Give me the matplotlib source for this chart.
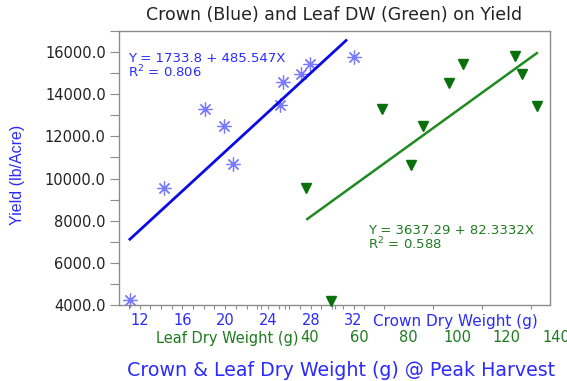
import matplotlib
matplotlib.use('Agg')
import matplotlib.pyplot as plt
from matplotlib.ticker import FormatStrFormatter, MultipleLocator, FixedLocator

# crown dry weight (g) vs yield
crown_x = [11.1, 14.3, 18.1, 19.9, 20.7, 25.1, 25.4, 27.1, 27.9, 32.0]
crown_y = [4240, 9570, 13310, 12500, 10680, 13500, 14575, 14970, 15440, 15790]
crown_fit_x = [11.1, 31.3]
crown_fit_y = [7120, 16550]

# leaf dry weight (g) vs yield
leaf_x = [38.3, 48.5, 69.1, 81.1, 86.1, 96.5, 102.3, 123.5, 126.3, 132.2]
leaf_y = [9570, 4200, 13290, 10650, 12470, 14530, 15430, 15820, 14950, 13420]
leaf_fit_x = [38.9, 132.2]
leaf_fit_y = [8080, 15950]

crown_ticks = [12, 16, 20, 24, 28, 32]
leaf_ticks = [40, 60, 80, 100, 120, 140]
yield_ticks = [4000, 6000, 8000, 10000, 12000, 14000, 16000]

BLUE = '#2b2bff'
GREEN = '#1e7a1e'
W, H = 567, 381

fig = plt.figure(figsize=(W / 100, H / 100), dpi=100)
plt.rcParams['font.family'] = ['DejaVu Sans']

# main axes (crown scale)
ax = fig.add_axes([119 / W, 1 - 305 / H, 431 / W, 274 / H])
ax.set_xlim(10.08, 50.36)
ax.set_ylim(4000, 17000)
for s in ax.spines.values():
    s.set_color('#8c8c8c')
    s.set_linewidth(1)

ax.yaxis.set_major_locator(FixedLocator(yield_ticks))
ax.yaxis.set_minor_locator(MultipleLocator(1000))
ax.yaxis.set_major_formatter(FormatStrFormatter('%.1f'))
ax.tick_params(axis='y', which='both', direction='out', length=6.5, width=0.8,
               color='#8c8c8c', labelsize=10.5, labelcolor='#222222', pad=3)

ax.xaxis.set_major_locator(FixedLocator(crown_ticks))
ax.xaxis.set_minor_locator(FixedLocator(range(11, 34)))
ax.tick_params(axis='x', which='both', direction='out', length=3, width=0.8,
               color='#8c8c8c', labelsize=10.5, labelcolor=BLUE, pad=3)

ax.plot(crown_x, crown_y, linestyle='none', marker=(8, 2, 0), markersize=10,
        markeredgecolor='#7a7aff', markeredgewidth=0.9, clip_on=False)
ax.plot(crown_fit_x, crown_fit_y, color='#0a0ae6', linewidth=2)

ax.text(0.021, 0.925, 'Y = 1733.8 + 485.547X\nR$^2$ = 0.806', transform=ax.transAxes,
        color=BLUE, fontsize=9.5, va='top', ha='left', linespacing=0.92)

# leaf scale axes (bottom labels only, extends to the figure edge)
lx0 = 40 - 191 / 2.46
lx1 = 40 + (W - 119 - 191) / 2.46
ax2 = fig.add_axes([119 / W, 1 - 305 / H, (W - 119) / W, 274 / H])
ax2.set_xlim(lx0, lx1)
ax2.set_ylim(4000, 17000)
ax2.patch.set_visible(False)
for s in ax2.spines.values():
    s.set_visible(False)
ax2.set_yticks([])
ax2.xaxis.set_major_locator(FixedLocator(leaf_ticks))
ax2.xaxis.set_minor_locator(FixedLocator(range(20, 140, 10)))
ax2.tick_params(axis='x', which='major', length=0, labelsize=10.5,
                labelcolor=GREEN, pad=18)
ax2.tick_params(axis='x', which='minor', direction='out', length=3, width=0.8,
                color='#8c8c8c')

ax2.plot(leaf_x, leaf_y, linestyle='none', marker='v', markersize=7,
         color='#0b700b', clip_on=False)
ax2.plot(leaf_fit_x, leaf_fit_y, color='#1f8a1f', linewidth=1.8)

ax.text(0.578, 0.295, 'Y = 3637.29 + 82.3332X\nR$^2$ = 0.588', transform=ax.transAxes,
        color=GREEN, fontsize=9.5, va='top', ha='left', linespacing=0.92)

# titles and axis labels
fig.text(334 / W, 1 - 15 / H, 'Crown (Blue) and Leaf DW (Green) on Yield',
         ha='center', va='center', fontsize=12.5, color='#222222')
fig.text(18 / W, 1 - 175 / H, 'Yield (lb/Acre)', rotation=90, ha='center',
         va='center', fontsize=11.5, color=BLUE, family='Liberation Sans')
fig.text(373 / W, 1 - 321.5 / H, 'Crown Dry Weight (g)', ha='left', va='center',
         fontsize=11, color=BLUE)
fig.text(298 / W, 1 - 338 / H, 'Leaf Dry Weight (g)', ha='right', va='center',
         fontsize=10.5, color=GREEN)
fig.text(126.7 / W, 1 - 370 / H, 'Crown & Leaf Dry Weight (g) @ Peak Harvest',
         ha='left', va='center', fontsize=13.7, color=BLUE)

fig.savefig('out.png', dpi=100)
